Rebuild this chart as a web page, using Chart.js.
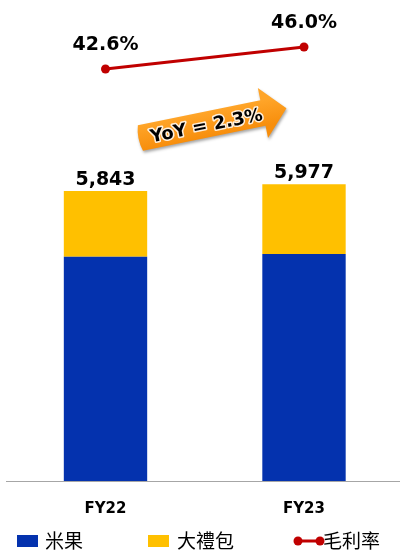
<!DOCTYPE html>
<html>
<head>
<meta charset="utf-8">
<script src="https://cdn.jsdelivr.net/npm/chart.js@4.4.1/dist/chart.umd.min.js"></script>
<style>
  html, body { margin: 0; padding: 0; background: #ffffff; overflow: hidden; }
  #wrap { width: 404px; height: 551px; position: relative; }
</style>
</head>
<body>
<div id="wrap"><canvas id="c"></canvas></div>
<script>
// ---- data ----
const categories = ['FY22', 'FY23'];
const riceCracker = [4520, 4574];     // 米果
const giftPack = [1323, 1403];        // 大禮包
const totalLabels = ['5,843', '5,977'];
const grossMargin = [42.6, 46.0];     // 毛利率 (%)
const yoyText = 'YoY = 2.3%';
const seriesNames = ['米果', '大禮包', '毛利率'];

const BLUE = '#0432AE';
const YELLOW = '#FFC000';
const RED = '#C00000';
const LATIN = "'DejaVu Sans', sans-serif";
const CJK = "'Noto Sans CJK TC', 'Noto Sans CJK SC', sans-serif";

const labelsPlugin = {
  id: 'labelsPlugin',
  afterDatasetsDraw(chart) {
    const ctx = chart.ctx;
    ctx.save();
    const topMeta = chart.getDatasetMeta(1);
    ctx.fillStyle = '#000';
    ctx.font = 'bold 19px ' + LATIN;
    ctx.textAlign = 'center';
    ctx.textBaseline = 'alphabetic';
    topMeta.data.forEach((bar, i) => {
      ctx.fillText(totalLabels[i], bar.x, bar.y - 6);
    });
    const lineMeta = chart.getDatasetMeta(2);
    lineMeta.data.forEach((pt, i) => {
      ctx.fillText(grossMargin[i].toFixed(1) + '%', pt.x, pt.y - 19);
    });

    // YoY arrow
    const x0 = chart.scales.x.getPixelForValue(0);
    const x1 = chart.scales.x.getPixelForValue(1);
    const ox = x0 + (x1 - x0) * 0.176;
    const oy = 138;
    const ang = -11.5 * Math.PI / 180;
    const len = 149, hh = 13, headH = 25.5, headL = 24;
    ctx.translate(ox, oy);
    ctx.rotate(ang);
    ctx.shadowColor = 'rgba(0,0,0,0.35)';
    ctx.shadowBlur = 3;
    ctx.shadowOffsetX = 1;
    ctx.shadowOffsetY = 2;
    ctx.beginPath();
    ctx.moveTo(0, -hh);
    ctx.lineTo(len - headL, -hh);
    ctx.lineTo(len - headL, -headH);
    ctx.lineTo(len, 0);
    ctx.lineTo(len - headL, headH);
    ctx.lineTo(len - headL, hh);
    ctx.lineTo(0, hh);
    ctx.quadraticCurveTo(-4, 0, 0, -hh);
    ctx.closePath();
    const g = ctx.createLinearGradient(0, -hh, 0, hh);
    g.addColorStop(0, '#FFA529');
    g.addColorStop(1, '#F78E0C');
    ctx.fillStyle = g;
    ctx.fill();
    ctx.shadowColor = 'transparent';
    ctx.font = 'bold 18px ' + LATIN;
    ctx.textAlign = 'center';
    ctx.textBaseline = 'middle';
    ctx.lineWidth = 3;
    ctx.strokeStyle = 'rgba(255,255,255,0.85)';
    ctx.lineJoin = 'round';
    ctx.strokeText(yoyText, 67, 2);
    ctx.fillStyle = '#000';
    ctx.fillText(yoyText, 67, 2);
    ctx.restore();
  },
  afterDraw(chart) {
    const ctx = chart.ctx;
    ctx.save();
    const cy = 541;
    ctx.fillStyle = BLUE;
    ctx.fillRect(17, 535, 21, 12);
    ctx.fillStyle = YELLOW;
    ctx.fillRect(148, 535, 21, 12);
    ctx.strokeStyle = RED;
    ctx.lineWidth = 3;
    ctx.beginPath();
    ctx.moveTo(297, cy);
    ctx.lineTo(320, cy);
    ctx.stroke();
    ctx.fillStyle = RED;
    [298, 320].forEach(x => {
      ctx.beginPath();
      ctx.arc(x, cy, 4.5, 0, Math.PI * 2);
      ctx.fill();
    });
    ctx.fillStyle = '#000';
    ctx.font = '19px ' + CJK;
    ctx.textAlign = 'left';
    ctx.textBaseline = 'middle';
    ctx.fillText(seriesNames[0], 45, cy);
    ctx.fillText(seriesNames[1], 177, cy);
    ctx.fillText(seriesNames[2], 323, cy);
    ctx.restore();
  }
};

new Chart(document.getElementById('c'), {
  data: {
    labels: categories,
    datasets: [
      { type: 'bar', label: seriesNames[0], data: riceCracker, backgroundColor: BLUE,
        stack: 's', yAxisID: 'y', barPercentage: 0.42, categoryPercentage: 1, order: 2 },
      { type: 'bar', label: seriesNames[1], data: giftPack, backgroundColor: YELLOW,
        stack: 's', yAxisID: 'y', barPercentage: 0.42, categoryPercentage: 1, order: 2 },
      { type: 'line', label: seriesNames[2], data: grossMargin, borderColor: RED,
        backgroundColor: RED, borderWidth: 3, pointRadius: 4.5, pointHoverRadius: 4.5,
        pointBackgroundColor: RED, pointBorderWidth: 0, yAxisID: 'y2', order: 1 }
    ]
  },
  options: {
    responsive: true,
    maintainAspectRatio: false,
    animation: false,
    events: [],
    layout: { autoPadding: false, padding: { left: 6.25, right: 0.75, top: 10, bottom: 0 } },
    plugins: { legend: { display: false }, tooltip: { enabled: false } },
    scales: {
      x: {
        stacked: true,
        grid: { display: false, drawTicks: false },
        border: { display: true, color: '#A6A6A6', width: 1 },
        ticks: { color: '#000', font: { family: LATIN, size: 15, weight: 'bold' }, padding: 19 },
        afterFit(scale) { scale.height = 70; }
      },
      y: { stacked: true, display: false, min: 0, max: 9490 },
      y2: { display: false, min: -21.07, max: 51.72 }
    }
  },
  plugins: [labelsPlugin]
});
</script>
</body>
</html>
